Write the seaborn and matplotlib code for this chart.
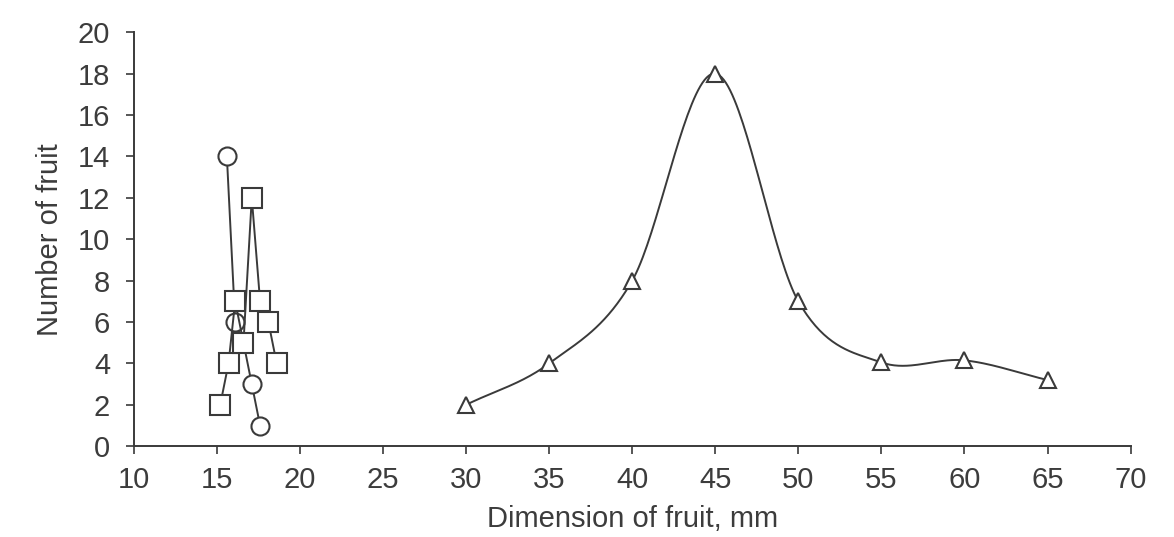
import numpy as np
import pandas as pd
import matplotlib
matplotlib.use("Agg")
import matplotlib.pyplot as plt
import seaborn as sns

# Data
circle_x = [15.6, 16.1, 16.6, 17.1, 17.6]
circle_y = [14, 6, 5, 3, 1]
square_x = [15.2, 15.7, 16.1, 16.6, 17.1, 17.6, 18.1, 18.6]
square_y = [2, 4, 7, 5, 12, 7, 6, 4]
tri_x = [30, 35, 40, 45, 50, 55, 60, 65]
tri_y = [2, 4, 8, 18, 7, 4.05, 4.15, 3.2]
x_ticks = [10, 15, 20, 25, 30, 35, 40, 45, 50, 55, 60, 65, 70]
y_ticks = [0, 2, 4, 6, 8, 10, 12, 14, 16, 18, 20]


def smooth_curve(x, y, n=40):
    """Excel-like smoothed line (Catmull-Rom Bezier) through the data points."""
    x = np.asarray(x, float); y = np.asarray(y, float)
    k = len(x)
    px = np.concatenate([[2 * x[0] - x[1]], x, [2 * x[-1] - x[-2]]])
    py = np.concatenate([[2 * y[0] - y[1]], y, [2 * y[-1] - y[-2]]])
    t = np.linspace(0, 1, n)
    xs, ys = [], []
    for i in range(k - 1):
        p0 = np.array([px[i], py[i]]); p1 = np.array([px[i + 1], py[i + 1]])
        p2 = np.array([px[i + 2], py[i + 2]]); p3 = np.array([px[i + 3], py[i + 3]])
        c1 = p1 + (p2 - p0) / 6.0
        c2 = p2 - (p3 - p1) / 6.0
        tt = t[:, None]
        pts = ((1 - tt) ** 3) * p1 + 3 * ((1 - tt) ** 2) * tt * c1 + 3 * (1 - tt) * tt ** 2 * c2 + tt ** 3 * p2
        xs.append(pts[:, 0]); ys.append(pts[:, 1])
    return np.concatenate(xs), np.concatenate(ys)


sns.set_theme(style="ticks")
plt.rcParams["font.family"] = ["Liberation Sans", "DejaVu Sans"]

fig = plt.figure(figsize=(11.74, 5.37), dpi=100)
ax = fig.add_axes([0.114, 0.169, 0.849, 0.771])

col = "#3a3a3a"
txt = "#3c3c3c"

circ = pd.DataFrame({"x": circle_x, "y": circle_y})
sq = pd.DataFrame({"x": square_x, "y": square_y})
tri = pd.DataFrame({"x": tri_x, "y": tri_y})
sx, sy = smooth_curve(tri_x, tri_y)
smooth = pd.DataFrame({"x": sx, "y": sy})

sns.lineplot(data=circ, x="x", y="y", ax=ax, color=col, lw=1.4, marker="o",
             markersize=13, markerfacecolor="white", markeredgecolor=col,
             markeredgewidth=1.5, sort=False)
sns.lineplot(data=sq, x="x", y="y", ax=ax, color=col, lw=1.4, marker="s",
             markersize=14, markerfacecolor="white", markeredgecolor=col,
             markeredgewidth=1.5, sort=False)
sns.lineplot(data=smooth, x="x", y="y", ax=ax, color=col, lw=1.4, sort=False)
ax.plot(tri["x"], tri["y"], ls="none", marker="^", markersize=12,
        markerfacecolor="white", markeredgecolor=col, markeredgewidth=1.5)

ax.set_xlim(10, 70)
ax.set_ylim(0, 20)
ax.set_xticks(x_ticks)
ax.set_yticks(y_ticks)
ax.tick_params(axis="both", direction="out", length=6, width=1.2, color=col,
               labelsize=21, labelcolor=txt)
ax.tick_params(axis="x", pad=8)
ax.tick_params(axis="y", pad=11)
for s in ["top", "right"]:
    ax.spines[s].set_visible(False)
for s in ["left", "bottom"]:
    ax.spines[s].set_color(col)
    ax.spines[s].set_linewidth(1.4)
ax.set_xlabel("Dimension of fruit, mm", fontsize=21, color=txt, labelpad=8)
ax.set_ylabel("Number of fruit", fontsize=21, color=txt, labelpad=10)

fig.savefig("out.png", dpi=100)
